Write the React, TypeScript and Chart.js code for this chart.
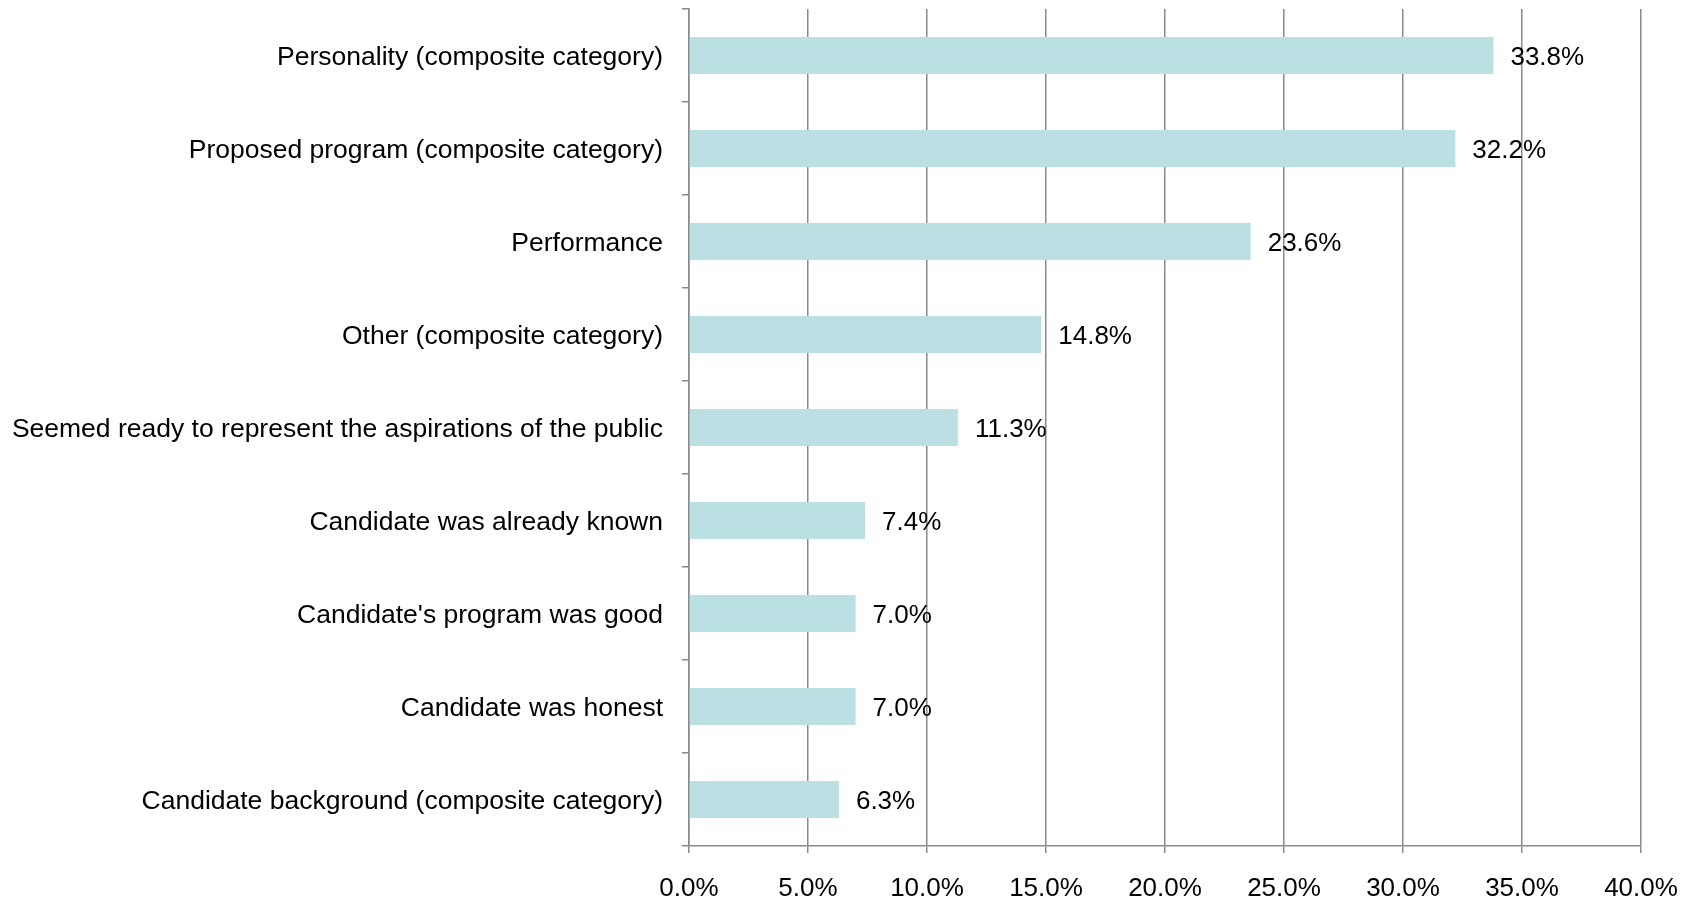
import React, { useEffect, useRef } from "react";
import { Chart, registerables } from "chart.js";

Chart.register(...registerables);

const categories = [
  "Personality (composite category)",
  "Proposed program (composite category)",
  "Performance",
  "Other (composite category)",
  "Seemed ready to represent the aspirations of the public",
  "Candidate was already known",
  "Candidate's program was good",
  "Candidate was honest",
  "Candidate background (composite category)",
];

const values = [33.8, 32.2, 23.6, 14.8, 11.3, 7.4, 7.0, 7.0, 6.3];

const xMin = 0;
const xMax = 40;
const xStep = 5;

const FONT = "'Liberation Sans', Arial, Helvetica, sans-serif";

const valueLabelPlugin = {
  id: "valueLabels",
  afterDatasetsDraw(chart: any) {
    const ctx = chart.ctx;
    const meta = chart.getDatasetMeta(0);
    ctx.save();
    ctx.font = `26px ${FONT}`;
    ctx.fillStyle = "#000000";
    ctx.textAlign = "left";
    ctx.textBaseline = "middle";
    meta.data.forEach((bar: any, i: number) => {
      const v = values[i];
      ctx.fillText(v.toFixed(1) + "%", bar.x + 17, bar.y + 2);
    });
    ctx.restore();
  },
};

export default function App() {
  const ref = useRef<HTMLCanvasElement | null>(null);

  useEffect(() => {
    if (!ref.current) return;
    const chart = new Chart(ref.current, {
      type: "bar",
      data: {
        labels: categories,
        datasets: [
          {
            data: values,
            backgroundColor: "#BBE0E3",
            borderWidth: 0,
            barPercentage: 0.4,
            categoryPercentage: 1,
          },
        ],
      },
      options: {
        indexAxis: "y",
        animation: false,
        responsive: false,
        maintainAspectRatio: false,
        layout: { padding: { top: 9, right: 51, left: 0, bottom: 0 } },
        plugins: {
          legend: { display: false },
          tooltip: { enabled: false },
          title: { display: false },
        },
        scales: {
          x: {
            type: "linear",
            min: xMin,
            max: xMax,
            afterFit(scale: any) {
              scale.height = 54;
              scale.paddingLeft = 0;
              scale.paddingRight = 0;
            },
            ticks: {
              stepSize: xStep,
              color: "#000000",
              font: { family: FONT, size: 26 },
              padding: 20,
              callback: (v: any) => Number(v).toFixed(1) + "%",
            },
            grid: {
              display: true,
              drawOnChartArea: true,
              drawTicks: true,
              tickLength: 7,
              color: "#8a8a8a",
              lineWidth: 1.5,
            },
            border: { display: true, color: "#8a8a8a", width: 1.5 },
          },
          y: {
            type: "category",
            afterFit(scale: any) {
              scale.width = 689;
              scale.paddingTop = 0;
              scale.paddingBottom = 0;
            },
            ticks: {
              color: "#000000",
              font: { family: FONT, size: 26.5 },
              padding: 19,
              labelOffset: 2,
            },
            grid: {
              display: true,
              drawOnChartArea: false,
              drawTicks: true,
              tickLength: 7,
              offset: true,
              color: "#8a8a8a",
              lineWidth: 1.5,
            },
            border: { display: true, color: "#8a8a8a", width: 1.5 },
          },
        },
      },
      plugins: [valueLabelPlugin],
    });
    return () => chart.destroy();
  }, []);

  return (
    <div style={{ position: "fixed", left: 0, top: 0, width: 1692, height: 900, background: "#ffffff" }}>
      <canvas ref={ref} width={1692} height={900} style={{ width: 1692, height: 900, display: "block" }} />
    </div>
  );
}
